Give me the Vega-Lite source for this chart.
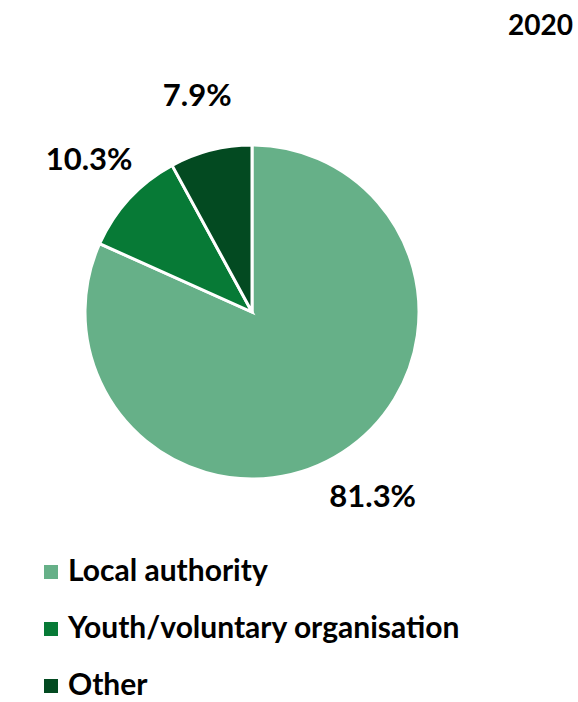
{
  "$schema": "https://vega.github.io/schema/vega-lite/v6.json",
  "autosize": "none",
  "width": 504,
  "height": 524,
  "padding": {"left": 0, "top": 50, "right": 74, "bottom": 128},
  "background": "white",
  "config": {"view": {"stroke": null}, "font": "Lato"},
  "title": {"text": "2020", "anchor": "end", "dx": 69, "offset": 9, "fontSize": 28, "fontWeight": "bold", "font": "Lato", "color": "#000000"},
  "data": {"values": [
    {"category": "Local authority", "value": 81.3, "idx": 1, "label": "81.3%"},
    {"category": "Youth/voluntary organisation", "value": 10.3, "idx": 2, "label": "10.3%"},
    {"category": "Other", "value": 7.9, "idx": 3, "label": "7.9%"}
  ]},
  "encoding": {
    "theta": {"field": "value", "type": "quantitative", "stack": true},
    "order": {"field": "idx", "type": "quantitative"},
    "color": {
      "field": "category", "type": "nominal",
      "scale": {"domain": ["Local authority", "Youth/voluntary organisation", "Other"], "range": ["#66b088", "#077a36", "#034a21"]},
      "legend": {
        "title": null, "orient": "none", "legendX": 36, "legendY": 507,
        "symbolType": "square", "symbolSize": 196, "symbolStrokeWidth": 0,
        "labelFont": "Lato", "labelFontSize": 30, "labelFontWeight": "bold", "labelColor": "#000000",
        "rowPadding": 27, "labelOffset": 2, "labelLimit": 600
      }
    }
  },
  "layer": [
    {"mark": {"type": "arc", "outerRadius": 167, "stroke": "white", "strokeWidth": 3}},
    {"mark": {"type": "text", "radius": 222, "fontSize": 31, "fontWeight": "bold", "font": "Lato", "color": "#000000"},
     "encoding": {"text": {"field": "label"}, "color": {"value": "#000000"}}}
  ]
}
